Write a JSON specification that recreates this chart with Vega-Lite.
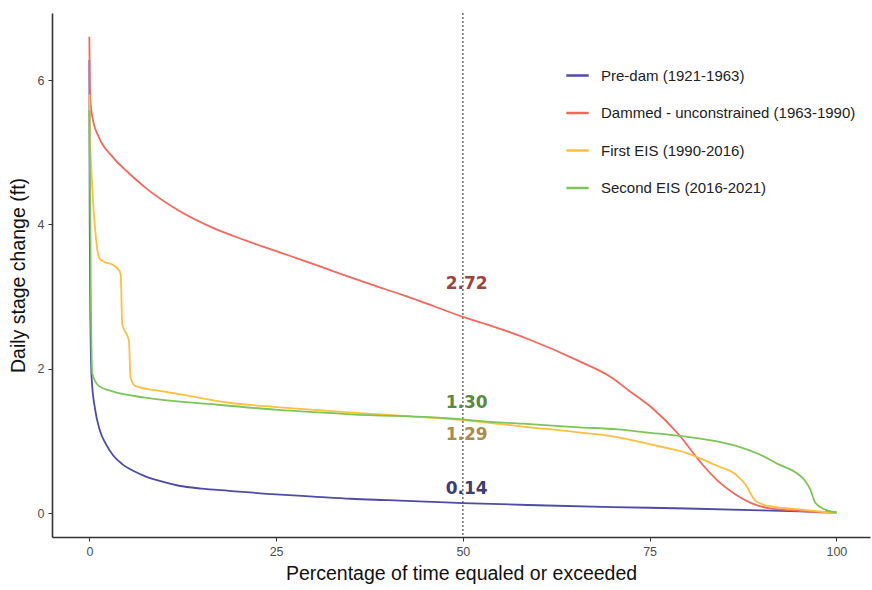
{
  "$schema": "https://vega.github.io/schema/vega-lite/v6.json",
  "width": 818,
  "height": 524,
  "autosize": {"type": "none"},
  "padding": {"left": 52, "top": 13, "right": 2, "bottom": 53},
  "background": "white",
  "config": {
    "view": {"stroke": null},
    "font": "Liberation Sans",
    "axis": {
      "grid": false,
      "domainColor": "#333333",
      "domainWidth": 1.6,
      "tickColor": "#333333",
      "tickSize": 4,
      "tickWidth": 1,
      "labelFont": "Liberation Sans",
      "labelFontSize": 12.5,
      "labelColor": "#4d4d4d",
      "titleFont": "Liberation Sans",
      "titleFontSize": 19.5,
      "titleFontWeight": "normal",
      "titleColor": "#111111"
    },
    "legend": {
      "labelFont": "Liberation Sans",
      "labelFontSize": 15,
      "labelColor": "#222222",
      "labelLimit": 0
    }
  },
  "datasets": {
    "curves": [
      {"s": "Pre-dam (1921-1963)", "x": 0, "y": 6.28},
      {"s": "Pre-dam (1921-1963)", "x": 0.05, "y": 4.0},
      {"s": "Pre-dam (1921-1963)", "x": 0.15, "y": 2.6},
      {"s": "Pre-dam (1921-1963)", "x": 0.3, "y": 1.88},
      {"s": "Pre-dam (1921-1963)", "x": 0.8, "y": 1.42},
      {"s": "Pre-dam (1921-1963)", "x": 1.4, "y": 1.15},
      {"s": "Pre-dam (1921-1963)", "x": 2.2, "y": 0.96},
      {"s": "Pre-dam (1921-1963)", "x": 3.2, "y": 0.8},
      {"s": "Pre-dam (1921-1963)", "x": 4.4, "y": 0.68},
      {"s": "Pre-dam (1921-1963)", "x": 6, "y": 0.58},
      {"s": "Pre-dam (1921-1963)", "x": 7.5, "y": 0.51},
      {"s": "Pre-dam (1921-1963)", "x": 10, "y": 0.43},
      {"s": "Pre-dam (1921-1963)", "x": 12, "y": 0.38},
      {"s": "Pre-dam (1921-1963)", "x": 15, "y": 0.34},
      {"s": "Pre-dam (1921-1963)", "x": 18.7, "y": 0.31},
      {"s": "Pre-dam (1921-1963)", "x": 25, "y": 0.26},
      {"s": "Pre-dam (1921-1963)", "x": 30, "y": 0.23},
      {"s": "Pre-dam (1921-1963)", "x": 35, "y": 0.2},
      {"s": "Pre-dam (1921-1963)", "x": 40, "y": 0.18},
      {"s": "Pre-dam (1921-1963)", "x": 45, "y": 0.16},
      {"s": "Pre-dam (1921-1963)", "x": 50, "y": 0.14},
      {"s": "Pre-dam (1921-1963)", "x": 60, "y": 0.11},
      {"s": "Pre-dam (1921-1963)", "x": 70, "y": 0.085},
      {"s": "Pre-dam (1921-1963)", "x": 80, "y": 0.065},
      {"s": "Pre-dam (1921-1963)", "x": 90, "y": 0.04},
      {"s": "Pre-dam (1921-1963)", "x": 100, "y": 0.01},

      {"s": "Dammed - unconstrained (1963-1990)", "x": 0, "y": 6.6},
      {"s": "Dammed - unconstrained (1963-1990)", "x": 0.05, "y": 6.0},
      {"s": "Dammed - unconstrained (1963-1990)", "x": 0.1, "y": 5.79},
      {"s": "Dammed - unconstrained (1963-1990)", "x": 0.4, "y": 5.49},
      {"s": "Dammed - unconstrained (1963-1990)", "x": 1.27, "y": 5.21},
      {"s": "Dammed - unconstrained (1963-1990)", "x": 3, "y": 4.95},
      {"s": "Dammed - unconstrained (1963-1990)", "x": 5.3, "y": 4.71},
      {"s": "Dammed - unconstrained (1963-1990)", "x": 7.5, "y": 4.51},
      {"s": "Dammed - unconstrained (1963-1990)", "x": 12, "y": 4.19},
      {"s": "Dammed - unconstrained (1963-1990)", "x": 16.4, "y": 3.96},
      {"s": "Dammed - unconstrained (1963-1990)", "x": 20.9, "y": 3.78},
      {"s": "Dammed - unconstrained (1963-1990)", "x": 25.3, "y": 3.62},
      {"s": "Dammed - unconstrained (1963-1990)", "x": 28.4, "y": 3.51},
      {"s": "Dammed - unconstrained (1963-1990)", "x": 33, "y": 3.34},
      {"s": "Dammed - unconstrained (1963-1990)", "x": 37.4, "y": 3.18},
      {"s": "Dammed - unconstrained (1963-1990)", "x": 42, "y": 3.02},
      {"s": "Dammed - unconstrained (1963-1990)", "x": 46.3, "y": 2.86},
      {"s": "Dammed - unconstrained (1963-1990)", "x": 50, "y": 2.72},
      {"s": "Dammed - unconstrained (1963-1990)", "x": 53.4, "y": 2.61},
      {"s": "Dammed - unconstrained (1963-1990)", "x": 58.8, "y": 2.41},
      {"s": "Dammed - unconstrained (1963-1990)", "x": 65.5, "y": 2.11},
      {"s": "Dammed - unconstrained (1963-1990)", "x": 69.9, "y": 1.88},
      {"s": "Dammed - unconstrained (1963-1990)", "x": 72.2, "y": 1.7},
      {"s": "Dammed - unconstrained (1963-1990)", "x": 75.3, "y": 1.46},
      {"s": "Dammed - unconstrained (1963-1990)", "x": 78.9, "y": 1.09},
      {"s": "Dammed - unconstrained (1963-1990)", "x": 81.7, "y": 0.72},
      {"s": "Dammed - unconstrained (1963-1990)", "x": 84.2, "y": 0.44},
      {"s": "Dammed - unconstrained (1963-1990)", "x": 86.5, "y": 0.26},
      {"s": "Dammed - unconstrained (1963-1990)", "x": 88.6, "y": 0.14},
      {"s": "Dammed - unconstrained (1963-1990)", "x": 90.9, "y": 0.07},
      {"s": "Dammed - unconstrained (1963-1990)", "x": 95.3, "y": 0.03},
      {"s": "Dammed - unconstrained (1963-1990)", "x": 100, "y": 0},

      {"s": "First EIS (1990-2016)", "x": 0, "y": 5.8},
      {"s": "First EIS (1990-2016)", "x": 0.1, "y": 5.2},
      {"s": "First EIS (1990-2016)", "x": 0.3, "y": 4.7},
      {"s": "First EIS (1990-2016)", "x": 0.8, "y": 3.9},
      {"s": "First EIS (1990-2016)", "x": 1.3, "y": 3.54},
      {"s": "First EIS (1990-2016)", "x": 2, "y": 3.48},
      {"s": "First EIS (1990-2016)", "x": 3, "y": 3.45},
      {"s": "First EIS (1990-2016)", "x": 4, "y": 3.36},
      {"s": "First EIS (1990-2016)", "x": 4.2, "y": 3.3},
      {"s": "First EIS (1990-2016)", "x": 4.4, "y": 2.62},
      {"s": "First EIS (1990-2016)", "x": 5.3, "y": 2.39},
      {"s": "First EIS (1990-2016)", "x": 5.5, "y": 1.88},
      {"s": "First EIS (1990-2016)", "x": 6.2, "y": 1.76},
      {"s": "First EIS (1990-2016)", "x": 9, "y": 1.7},
      {"s": "First EIS (1990-2016)", "x": 12, "y": 1.65},
      {"s": "First EIS (1990-2016)", "x": 18.7, "y": 1.53},
      {"s": "First EIS (1990-2016)", "x": 25, "y": 1.47},
      {"s": "First EIS (1990-2016)", "x": 30, "y": 1.43},
      {"s": "First EIS (1990-2016)", "x": 40, "y": 1.36},
      {"s": "First EIS (1990-2016)", "x": 50, "y": 1.29},
      {"s": "First EIS (1990-2016)", "x": 52, "y": 1.27},
      {"s": "First EIS (1990-2016)", "x": 58, "y": 1.2},
      {"s": "First EIS (1990-2016)", "x": 65.5, "y": 1.12},
      {"s": "First EIS (1990-2016)", "x": 70.8, "y": 1.05},
      {"s": "First EIS (1990-2016)", "x": 74.4, "y": 0.97},
      {"s": "First EIS (1990-2016)", "x": 77, "y": 0.91},
      {"s": "First EIS (1990-2016)", "x": 79.8, "y": 0.84},
      {"s": "First EIS (1990-2016)", "x": 82, "y": 0.75},
      {"s": "First EIS (1990-2016)", "x": 84.2, "y": 0.65},
      {"s": "First EIS (1990-2016)", "x": 86.5, "y": 0.54},
      {"s": "First EIS (1990-2016)", "x": 87.8, "y": 0.4},
      {"s": "First EIS (1990-2016)", "x": 89.2, "y": 0.17},
      {"s": "First EIS (1990-2016)", "x": 90.9, "y": 0.1},
      {"s": "First EIS (1990-2016)", "x": 95.3, "y": 0.05},
      {"s": "First EIS (1990-2016)", "x": 100, "y": 0},

      {"s": "Second EIS (2016-2021)", "x": 0, "y": 5.58},
      {"s": "Second EIS (2016-2021)", "x": 0.1, "y": 4.5},
      {"s": "Second EIS (2016-2021)", "x": 0.2, "y": 3.0},
      {"s": "Second EIS (2016-2021)", "x": 0.4, "y": 1.93},
      {"s": "Second EIS (2016-2021)", "x": 1.3, "y": 1.76},
      {"s": "Second EIS (2016-2021)", "x": 3, "y": 1.69},
      {"s": "Second EIS (2016-2021)", "x": 7.5, "y": 1.6},
      {"s": "Second EIS (2016-2021)", "x": 16.4, "y": 1.51},
      {"s": "Second EIS (2016-2021)", "x": 25.3, "y": 1.43},
      {"s": "Second EIS (2016-2021)", "x": 35, "y": 1.37},
      {"s": "Second EIS (2016-2021)", "x": 50, "y": 1.3},
      {"s": "Second EIS (2016-2021)", "x": 52, "y": 1.28},
      {"s": "Second EIS (2016-2021)", "x": 58, "y": 1.24},
      {"s": "Second EIS (2016-2021)", "x": 65.5, "y": 1.19},
      {"s": "Second EIS (2016-2021)", "x": 70.8, "y": 1.16},
      {"s": "Second EIS (2016-2021)", "x": 74.4, "y": 1.12},
      {"s": "Second EIS (2016-2021)", "x": 79.8, "y": 1.06},
      {"s": "Second EIS (2016-2021)", "x": 84.2, "y": 0.99},
      {"s": "Second EIS (2016-2021)", "x": 87, "y": 0.92},
      {"s": "Second EIS (2016-2021)", "x": 89.6, "y": 0.82},
      {"s": "Second EIS (2016-2021)", "x": 92.2, "y": 0.68},
      {"s": "Second EIS (2016-2021)", "x": 94.9, "y": 0.54},
      {"s": "Second EIS (2016-2021)", "x": 95.8, "y": 0.45},
      {"s": "Second EIS (2016-2021)", "x": 96.5, "y": 0.33},
      {"s": "Second EIS (2016-2021)", "x": 97.2, "y": 0.14},
      {"s": "Second EIS (2016-2021)", "x": 98.5, "y": 0.05},
      {"s": "Second EIS (2016-2021)", "x": 100, "y": 0.01}
    ],
    "labels": [
      {"s": "Dammed - unconstrained (1963-1990)", "x": 50.5, "y": 3.17, "label": "2.72"},
      {"s": "Second EIS (2016-2021)", "x": 50.5, "y": 1.53, "label": "1.30"},
      {"s": "First EIS (1990-2016)", "x": 50.5, "y": 1.08, "label": "1.29"},
      {"s": "Pre-dam (1921-1963)", "x": 50.5, "y": 0.33, "label": "0.14"}
    ],
    "ref": [{"x": 50}]
  },
  "layer": [
    {
      "data": {"name": "ref"},
      "mark": {"type": "rule", "color": "#555555", "strokeDash": [2, 2], "strokeWidth": 1.3},
      "encoding": {
        "x": {"field": "x", "type": "quantitative", "scale": {"domain": [-5, 104.5], "nice": false, "zero": false}}
      }
    },
    {
      "data": {"name": "curves"},
      "mark": {"type": "line", "strokeWidth": 1.8, "interpolate": "monotone"},
      "encoding": {
        "x": {
          "field": "x", "type": "quantitative",
          "scale": {"domain": [-5, 104.5], "nice": false, "zero": false},
          "axis": {"values": [0, 25, 50, 75, 100], "format": "d", "title": "Percentage of time equaled or exceeded", "labelPadding": 4, "titlePadding": 7}
        },
        "y": {
          "field": "y", "type": "quantitative",
          "scale": {"domain": [-0.33, 6.93], "nice": false, "zero": false},
          "axis": {"values": [0, 2, 4, 6], "format": "d", "title": "Daily stage change (ft)", "labelPadding": 4, "titlePadding": 9}
        },
        "color": {
          "field": "s", "type": "nominal",
          "scale": {
            "domain": ["Pre-dam (1921-1963)", "Dammed - unconstrained (1963-1990)", "First EIS (1990-2016)", "Second EIS (2016-2021)"],
            "range": ["#4E4AA8", "#F4675C", "#FFBF3F", "#7CC657"]
          },
          "legend": {
            "title": null,
            "orient": "none",
            "legendX": 513,
            "legendY": 50,
            "symbolType": "stroke",
            "symbolSize": 500,
            "symbolStrokeWidth": 2.5,
            "labelOffset": 11,
            "rowPadding": 16.5
          }
        },
        "order": {"field": "x", "type": "quantitative"}
      }
    },
    {
      "data": {"name": "labels"},
      "mark": {"type": "text", "font": "DejaVu Sans", "fontWeight": "bold", "fontSize": 17, "align": "center", "baseline": "middle"},
      "encoding": {
        "x": {"field": "x", "type": "quantitative"},
        "y": {"field": "y", "type": "quantitative"},
        "text": {"field": "label", "type": "nominal"},
        "color": {
          "field": "s", "type": "nominal",
          "scale": {
            "domain": ["Pre-dam (1921-1963)", "Dammed - unconstrained (1963-1990)", "First EIS (1990-2016)", "Second EIS (2016-2021)"],
            "range": ["#3F3C6E", "#9B4540", "#A88B4E", "#5B8A3E"]
          },
          "legend": null
        }
      }
    }
  ],
  "resolve": {"scale": {"color": "independent"}}
}
